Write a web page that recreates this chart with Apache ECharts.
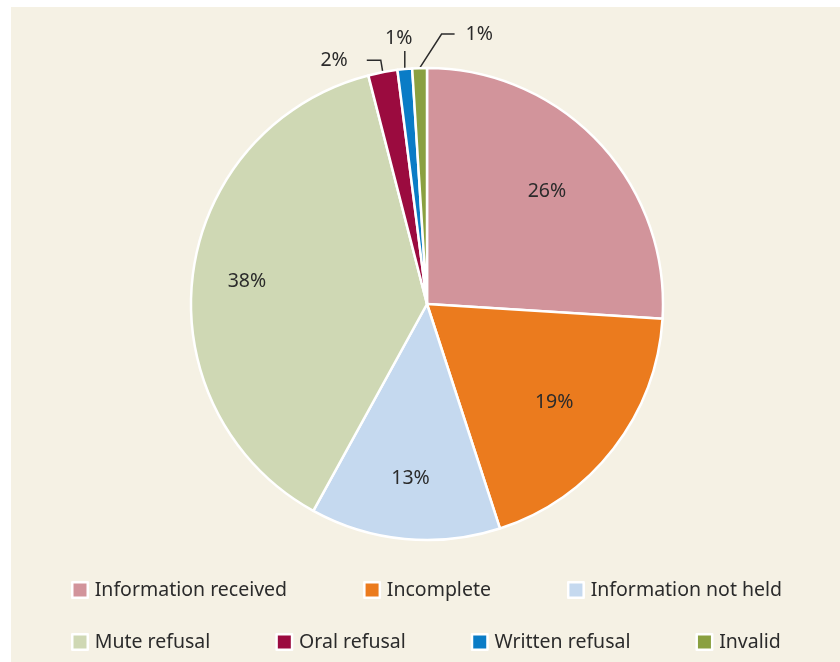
<!DOCTYPE html>
<html>
<head>
<meta charset="utf-8">
<script src="https://cdn.jsdelivr.net/npm/echarts@6/dist/echarts.min.js"></script>
<style>
  html, body { margin: 0; padding: 0; background: #ffffff; }
  #chart { position: absolute; left: 11px; top: 7px; width: 829px; height: 655px; }
</style>
</head>
<body>
<div id="chart"></div>
<script>
  var categories = ['Information received', 'Incomplete', 'Information not held',
    'Mute refusal', 'Oral refusal', 'Written refusal', 'Invalid']
  var values = [26, 19, 13, 38, 2, 1, 1]
  var colors = ['#d2949b', '#eb7b1e', '#c5d9ef', '#cfd8b4', '#9b0b3f', '#0a7cc6', '#8aa040']

  var cx = 416, cy = 297, radius = 236
  // how far inner labels sit relative to the default half-radius spot
  var innerScale = [1.36, 1.33, 1.45, 1.5]
  var font = 'Noto Sans'
  var chart = echarts.init(document.getElementById('chart'))

  var data = categories.map(function (name, i) {
    var small = values[i] < 5
    return {
      name: name,
      value: values[i],
      itemStyle: { color: colors[i] },
      label: { position: small ? 'outside' : 'inside' },
      labelLine: { show: small }
    }
  })

  var legendBase = {
    left: 55,
    itemWidth: 15.5, itemHeight: 15.5,
    icon: 'rect',
    itemStyle: { borderColor: '#ffffff', borderWidth: 2.5 },
    textStyle: { fontFamily: font, fontSize: 19.5, color: '#2b2b2b', padding: [0, 0, 0, 2] }
  }

  chart.setOption({
    backgroundColor: '#f5f1e4',
    legend: [
      Object.assign({}, legendBase, { data: categories.slice(0, 3), top: 568, itemGap: 76 }),
      Object.assign({}, legendBase, { data: categories.slice(3), top: 620, itemGap: 65 })
    ],
    series: [
      {
        type: 'pie',
        center: [cx, cy],
        radius: radius,
        startAngle: 90,
        clockwise: true,
        avoidLabelOverlap: false,
        itemStyle: { borderColor: '#ffffff', borderWidth: 2.5 },
        label: {
          formatter: '{c}%',
          fontFamily: font,
          fontSize: 19.5,
          color: '#2b2b2b'
        },
        labelLine: { lineStyle: { color: '#2b2b2b', width: 1.5 }, length: 15, length2: 12 },
        emphasis: { disabled: true },
        labelLayout: function (p) {
          var r = p.labelRect
          var lx = r.x + r.width / 2, ly = r.y + r.height / 2
          if (p.dataIndex < 4) {
            var k = innerScale[p.dataIndex]
            return { x: cx + (lx - cx) * k, y: cy + (ly - cy) * k, align: 'center', verticalAlign: 'middle' }
          }
          var p0 = p.labelLinePoints[0]
          if (p.dataIndex === 4) {
            var a = [p0[0] - 2, p0[1] - 12], b = [a[0] - 14, a[1]]
            return { x: b[0] - 19, y: b[1], align: 'right', verticalAlign: 'middle', labelLinePoints: [p0, a, b] }
          }
          if (p.dataIndex === 5) {
            var a2 = [p0[0], p0[1] - 18]
            return { x: a2[0] - 6, y: a2[1] - 13, align: 'center', verticalAlign: 'middle', labelLinePoints: [p0, a2, a2] }
          }
          var a3 = [p0[0] + 22, p0[1] - 34], b3 = [a3[0] + 13, a3[1]]
          return { x: b3[0] + 11, y: b3[1], align: 'left', verticalAlign: 'middle', labelLinePoints: [p0, a3, b3] }
        },
        data: data
      }
    ]
  })

  window.onresize = function () {
    chart.resize()
  }
</script>
</body>
</html>
